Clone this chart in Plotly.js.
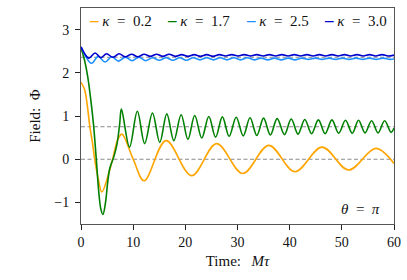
<!DOCTYPE html>
<html>
<head>
<meta charset="utf-8">
<script src="https://cdn.plot.ly/plotly-3.0.1.min.js"></script>
<style>html,body{margin:0;padding:0;background:#fff;}#chart{width:407px;height:280px;}</style>
</head>
<body>
<div id="chart"></div>
<script>
// ---- data ----
const kappaLabels = ["0.2", "1.7", "2.5", "3.0"];
const colors = ["orange", "green", "dodgerblue", "mediumblue"];
const equilibria = [0, 0.75, 2.36];
const timeRange = [0, 60];

const t_k02 = [0, 0.7, 1.2, 1.7, 2.2, 2.6, 3.3, 4.0, 5.2, 6.1, 7.1, 7.85, 10.0, 12.1, 16.3, 21.2, 26.0, 31.0, 36.0, 41.0, 46.2, 51.3, 56.5, 60];
const phi_k02 = [1.78, 1.61, 1.25, 0.75, 0.38, 0.02, -0.45, -0.76, -0.38, 0.02, 0.47, 0.58, 0.0, -0.50, 0.43, -0.38, 0.36, -0.33, 0.32, -0.29, 0.28, -0.25, 0.25, -0.10];

const t_k17 = [0, 0.7, 1.3, 1.9, 2.4, 2.9, 3.4, 3.8, 4.2, 4.7, 5.1, 5.5, 6.3, 6.9, 7.4, 7.75,
  9.3, 10.8, 12.2, 13.7, 15.1, 16.45, 17.8, 19.2, 20.5, 21.8, 23.15, 24.5, 25.8, 27.1, 28.4, 29.75,
  31.1, 32.4, 33.7, 35.0, 36.3, 37.6, 39.0, 40.3, 41.6, 42.9, 44.2, 45.5, 46.8, 48.1, 49.4, 50.7,
  52.0, 53.2, 54.45, 55.7, 56.95, 58.2, 59.45, 60];
const phi_k17 = [2.58, 2.28, 1.9, 1.35, 0.8, 0.05, -0.75, -1.15, -1.28, -1.0, -0.55, -0.22, 0.06, 0.35, 0.8, 1.16,
  0.28, 1.11, 0.36, 1.07, 0.39, 1.05, 0.43, 1.03, 0.46, 1.01, 0.49, 0.99, 0.51, 0.98, 0.53, 0.97,
  0.54, 0.96, 0.55, 0.95, 0.56, 0.94, 0.57, 0.93, 0.58, 0.92, 0.59, 0.91, 0.59, 0.91, 0.60, 0.90,
  0.60, 0.90, 0.61, 0.89, 0.61, 0.89, 0.62, 0.72];

const t_k25 = [0, 2.0, 3.3, 4.6, 5.9, 7.2, 8.5, 9.8, 11.1, 12.4, 13.7, 15.0, 16.3, 17.6, 18.9, 20.2, 21.5,
  22.8, 24.1, 25.4, 26.7, 28.0, 29.3, 30.6, 31.9, 33.2, 34.5, 35.8, 37.1, 38.4, 39.7, 41.0, 42.3,
  43.6, 44.9, 46.2, 47.5, 48.8, 50.1, 51.4, 52.7, 54.0, 55.3, 56.6, 57.9, 59.2, 60];
const phi_k25 = [2.60, 2.22, 2.38, 2.25, 2.37, 2.27, 2.36, 2.28, 2.36, 2.28, 2.35, 2.29, 2.35, 2.29, 2.35, 2.29, 2.35,
  2.30, 2.35, 2.30, 2.35, 2.30, 2.35, 2.30, 2.35, 2.30, 2.34, 2.30, 2.34, 2.30, 2.34, 2.30, 2.34,
  2.31, 2.34, 2.31, 2.34, 2.31, 2.34, 2.31, 2.34, 2.31, 2.34, 2.31, 2.34, 2.31, 2.32];

const t_k30 = [0, 1.5, 2.7, 3.8, 4.9, 6.1, 7.3, 8.5, 9.7, 10.9, 12.1, 13.3, 14.5, 15.7, 16.9, 18.1, 19.3,
  20.5, 21.7, 22.9, 24.1, 25.3, 26.5, 27.7, 28.9, 30.1, 31.3, 32.5, 33.7, 34.9, 36.1, 37.3, 38.5,
  39.7, 40.9, 42.1, 43.3, 44.5, 45.7, 46.9, 48.1, 49.3, 50.5, 51.7, 52.9, 54.1, 55.3, 56.5, 57.7, 58.9, 60];
const phi_k30 = [2.60, 2.34, 2.46, 2.35, 2.44, 2.36, 2.44, 2.37, 2.43, 2.37, 2.43, 2.38, 2.43, 2.38, 2.43, 2.38, 2.42,
  2.38, 2.42, 2.38, 2.42, 2.38, 2.42, 2.39, 2.42, 2.39, 2.42, 2.39, 2.42, 2.39, 2.42, 2.39, 2.42,
  2.39, 2.42, 2.39, 2.42, 2.39, 2.42, 2.39, 2.42, 2.39, 2.42, 2.39, 2.42, 2.39, 2.42, 2.39, 2.42, 2.39, 2.41];

const xTicks = [0, 10, 20, 30, 40, 50, 60];
const yTicks = [-1, 0, 1, 2, 3];

// ---- build traces ----
const FONT = "Liberation Serif, Times New Roman, serif";
const traces = [];
equilibria.forEach(v => traces.push({
  x: timeRange, y: [v, v], mode: "lines", type: "scatter", hoverinfo: "skip", showlegend: false,
  line: {color: "#8a8a8a", width: 1.1, dash: "4px,2.5px"}
}));
const series = [[t_k02, phi_k02], [t_k17, phi_k17], [t_k25, phi_k25], [t_k30, phi_k30]];
series.forEach((s, i) => traces.push({
  x: s[0], y: s[1], mode: "lines", type: "scatter", showlegend: false,
  line: {color: colors[i], width: 1.6, shape: "spline", smoothing: 1}
}));

const legX = [0.019, 0.268, 0.521, 0.770];
const sp = "\u2002";
const annotations = kappaLabels.map((k, i) => ({
  xref: "paper", yref: "paper", x: legX[i], y: 0.94, xanchor: "left", yanchor: "middle",
  showarrow: false, font: {family: FONT, size: 15, color: "#111"},
  text: '<span style="color:' + colors[i] + ';font-size:17px"><b>–</b></span> <i>κ</i>' + sp + '=' + sp + k
}));
annotations.push({
  xref: "paper", yref: "paper", x: 0.962, y: 0.069, xanchor: "right", yanchor: "middle",
  showarrow: false, font: {family: FONT, size: 15, color: "#111"},
  text: '<i>θ</i>' + sp + '=' + sp + '<i>π</i>'
});

const axisCommon = {
  showgrid: false, zeroline: false, showline: true, mirror: true, linecolor: "#555", linewidth: 1,
  ticks: "outside", ticklen: 5, tickwidth: 1, tickcolor: "#222",
  tickfont: {family: FONT, size: 14, color: "#111"}, fixedrange: true
};

const layout = {
  width: 407, height: 280,
  margin: {l: 81, r: 13, t: 8, b: 56},
  paper_bgcolor: "#fff", plot_bgcolor: "#fff",
  showlegend: false,
  xaxis: Object.assign({}, axisCommon, {
    range: timeRange, tickvals: xTicks, ticktext: xTicks.map(String),
    title: {text: "Time:\u2002\u2009<i>Mτ</i>", font: {family: FONT, size: 15, color: "#111"}, standoff: 6}
  }),
  yaxis: Object.assign({}, axisCommon, {
    range: [-1.5, 3.5], tickvals: yTicks, ticktext: yTicks.map(v => v < 0 ? "\u2212" + Math.abs(v) : String(v)),
    ticklabelstandoff: 3,
    title: {text: "Field:\u2002Φ", font: {family: FONT, size: 15, color: "#111"}, standoff: 10}
  }),
  annotations: annotations
};

Plotly.newPlot("chart", traces, layout, {staticPlot: true, displayModeBar: false});
</script>
</body>
</html>
